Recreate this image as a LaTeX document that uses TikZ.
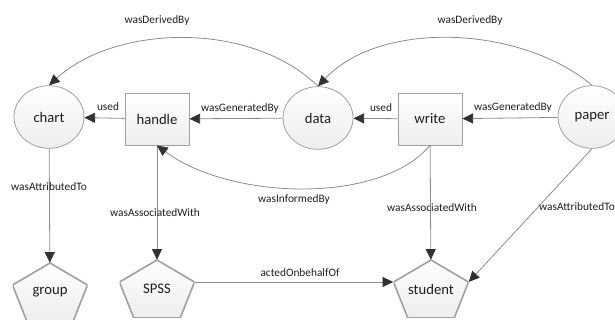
\documentclass[tikz,border=0pt]{standalone}
\usepackage{fontspec}
\setmainfont{Carlito}
\usetikzlibrary{shapes.geometric}
\usetikzlibrary{arrows.meta}
\usetikzlibrary{calc}
\definecolor{relgray}{RGB}{140,140,140}
\definecolor{tipgray}{RGB}{50,50,50}
\definecolor{bordergray}{RGB}{160,160,160}
\definecolor{textgray}{RGB}{30,30,30}

\begin{document}
\begin{tikzpicture}[x=0.75pt,y=0.75pt,yscale=-1,xscale=1,
  entity/.style={ellipse, draw=bordergray, line width=0.6pt, top color=white, bottom color=gray!14, inner sep=0pt, minimum width=52.5pt, minimum height=47pt, font=\fontsize{11}{13}\selectfont, text=textgray},
  activity/.style={rectangle, draw=bordergray, line width=0.6pt, top color=white, bottom color=gray!14, inner sep=0pt, minimum width=48pt, minimum height=39pt, font=\fontsize{11}{13}\selectfont, text=textgray},
  agent/.style={rectangle, inner sep=0pt, minimum width=56.25pt, minimum height=43.5pt, font=\fontsize{11}{13}\selectfont, text=textgray,
    path picture={\path[draw=bordergray, line width=1.2pt, top color=white, bottom color=gray!14]
      (path picture bounding box.north)
      -- ($(path picture bounding box.north west)!0.38!(path picture bounding box.south west)$)
      -- ($(path picture bounding box.south west)!0.19!(path picture bounding box.south east)$)
      -- ($(path picture bounding box.south west)!0.81!(path picture bounding box.south east)$)
      -- ($(path picture bounding box.north east)!0.38!(path picture bounding box.south east)$)
      -- cycle;}},
  rel/.style={draw=relgray, line width=0.6pt, -{Triangle[length=8pt,width=7.5pt,color=tipgray]}},
  lbl/.style={inner sep=0.75pt, font=\fontsize{8.5}{10}\selectfont, text=textgray}]
\useasboundingbox (0,0) rectangle (615,320);

%Shape: Ellipse 
\node[entity] (chart) at (49,117) {chart};
%Shape: Rectangle 
\node[activity] (handle) at (157,119) {handle};
%Shape: Ellipse 
\node[entity] (data) at (318,118) {data};
%Shape: Rectangle 
\node[activity] (write) at (430,119) {write};
%Shape: Ellipse 
\node[entity, minimum width=51pt] (paper) at (592,117) {paper};
%Shape: Pentagon 
\node[agent] (group) at (50,292) {group};
%Shape: Pentagon 
\node[agent] (spss) at (157,289) {SPSS};
%Shape: Pentagon 
\node[agent] (student) at (431,289) {student};

%Straight Lines 
\draw[rel] (handle) -- (chart);
\draw[rel] (data) -- (handle);
\draw[rel] (write) -- (data);
\draw[rel] (paper) -- (write);
\draw[rel] (chart) -- (group);
\draw[rel] (handle) -- (spss);
\draw[rel] (write) -- (student);
\draw[rel] ($(spss.north east)!0.38!(spss.south east)$) -- ($(student.north west)!0.38!(student.south west)$);
\draw[rel] (paper.south) -- ($(student.north east)!0.38!(student.south east)$);
%Curve Lines 
\draw[rel] (data.north) .. controls (250,20) and (115,25) .. (chart.north);
\draw[rel] (paper.north) .. controls (520,25) and (380,20) .. (data.north);
\draw[rel] (write.south) .. controls (380,205) and (230,200) .. (handle.south);

% Text Node
\node[lbl] (derivedA) at (157,20) {wasDerivedBy};
% Text Node
\node[lbl] (derivedB) at (470,20) {wasDerivedBy};
% Text Node
\node[lbl] (usedA) at (108,107) {used};
% Text Node
\node[lbl] (generatedA) at (240,108) {wasGeneratedBy};
% Text Node
\node[lbl] (usedB) at (381,108) {used};
% Text Node
\node[lbl] (generatedB) at (513,107) {wasGeneratedBy};
% Text Node
\node[lbl] (informed) at (294,199) {wasInformedBy};
% Text Node
\node[lbl] (attributedA) at (49,187) {wasAttributedTo};
% Text Node
\node[lbl] (associatedA) at (155,213) {wasAssociatedWith};
% Text Node
\node[lbl] (associatedB) at (432,208) {wasAssociatedWith};
% Text Node
\node[lbl] (attributedB) at (577,207) {wasAttributedTo};
% Text Node
\node[lbl] (acted) at (300,273) {actedOnbehalfOf};

\end{tikzpicture}
\end{document}
